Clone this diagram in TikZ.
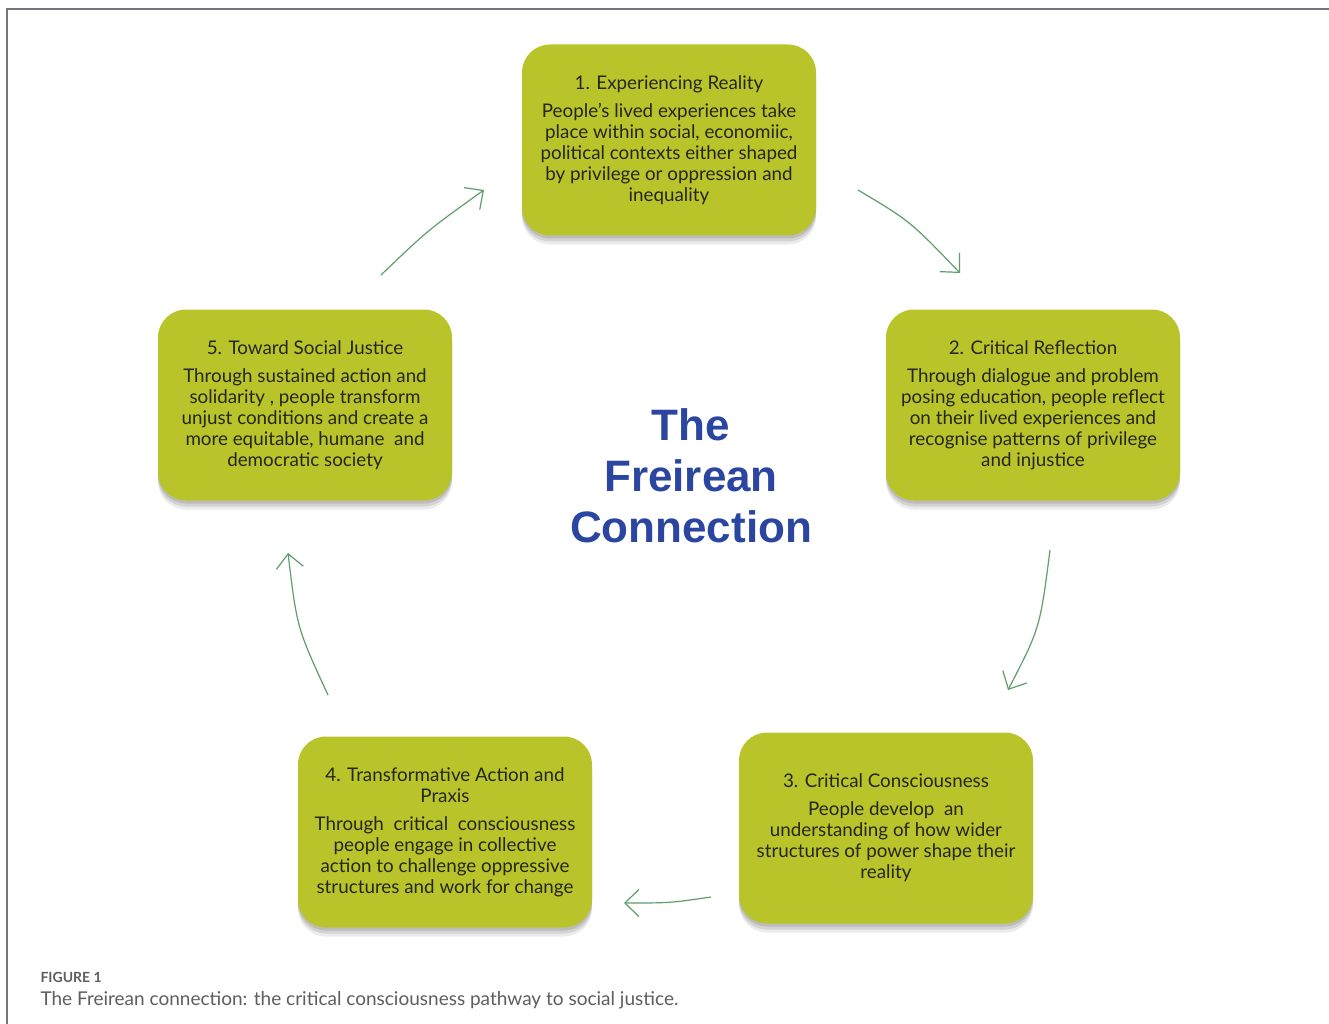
\documentclass[tikz,border=0pt]{standalone}
\usepackage{fontspec}
\setmainfont{Lato}
\newfontfamily\headfont{Liberation Sans}
\newfontfamily\capfont{Lato}
\usetikzlibrary{arrows.meta}

\definecolor{boxgreen}{HTML}{B9C42B}
\definecolor{boxtext}{HTML}{26261A}
\definecolor{flowgreen}{HTML}{5E9E6C}
\definecolor{titleblue}{HTML}{2B46A0}
\definecolor{framegray}{HTML}{74747C}
\definecolor{capgray}{HTML}{5E5E5E}

\tikzset{
  stage/.style={
    rounded corners=28pt, fill=boxgreen, minimum width=294pt, minimum height=191pt,
    inner sep=0pt, text=boxtext, align=center,
    font=\fontsize{18.8}{21}\selectfont,
    preaction={fill=black, opacity=0.10, transform canvas={yshift=-3pt}},
    preaction={fill=black, opacity=0.10, transform canvas={yshift=-6pt}},
    preaction={fill=black, opacity=0.08, transform canvas={yshift=-9pt}}
  },
  flow/.style={draw=flowgreen, line width=1.2pt,
    -{Straight Barb[length=14pt,width=27pt,line width=1.2pt]}}
}
\newcommand{\stagehead}[1]{#1\\[7pt]}

\begin{document}
\begin{tikzpicture}[x=1pt,y=-1pt]
\useasboundingbox (0,0) rectangle (1329,1024);
\fill[white] (0,0) rectangle (1329,1024);

% outer frame: top and left rules
\draw[framegray, line width=1.5pt] (7,1024) -- (7,9) -- (1329,9);

% the five stages
\node[stage] (b1) at (669,140) {\stagehead{1. Experiencing Reality}People's lived experiences take\\place within social, economiic,\\political contexts either shaped\\by privilege or oppression and\\inequality};
\node[stage] (b2) at (1033,405) {\stagehead{2. Critical Reflection}Through dialogue and problem\\posing education, people reflect\\on their lived experiences and\\recognise patterns of privilege\\and injustice};
\node[stage] (b3) at (886,828) {\stagehead{3. Critical Consciousness}People develop~ an\\understanding of how wider\\structures of power shape their\\reality};
\node[stage] (b4) at (445,832) {4. Transformative Action and\\\stagehead{Praxis}Through~ critical~ consciousness\\people engage in collective\\action to challenge oppressive\\structures and work for change};
\node[stage] (b5) at (305,405) {\stagehead{5. Toward Social Justice}Through sustained action and\\solidarity , people transform\\unjust conditions and create a\\more equitable, humane~ and\\democratic society};

% centre title
\node[font=\headfont\bfseries\fontsize{44}{51}\selectfont, text=titleblue, align=center] (title) at (691,476) {The\\Freirean\\Connection};

% connector end points
\coordinate (a1s) at (858,190);  \coordinate (a1e) at (960,273);
\coordinate (a2s) at (1050,550); \coordinate (a2e) at (1008,690);
\coordinate (a3s) at (711,897);  \coordinate (a3e) at (624,903);
\coordinate (a4s) at (328,695);  \coordinate (a4e) at (288,553);
\coordinate (a5s) at (381,275);  \coordinate (a5e) at (484,190);

\draw[flow] (a1s) .. controls (910,221) .. (a1e);
\draw[flow] (a2s) .. controls (1040,628) .. (a2e);
\draw[flow] (a3s) .. controls (670,903) .. (a3e);
\draw[flow] (a4s) .. controls (297,628) .. (a4e);
\draw[flow] (a5s) .. controls (428,230) .. (a5e);

% caption
\node[anchor=west, font=\capfont\bfseries\fontsize{14}{16}\selectfont, text=capgray] (fig) at (37,977) {FIGURE 1};
\node[anchor=west, font=\capfont\fontsize{19}{22}\selectfont, text=capgray] (cap) at (37,1000) {The Freirean connection: the critical consciousness pathway to social justice.};
\end{tikzpicture}
\end{document}
